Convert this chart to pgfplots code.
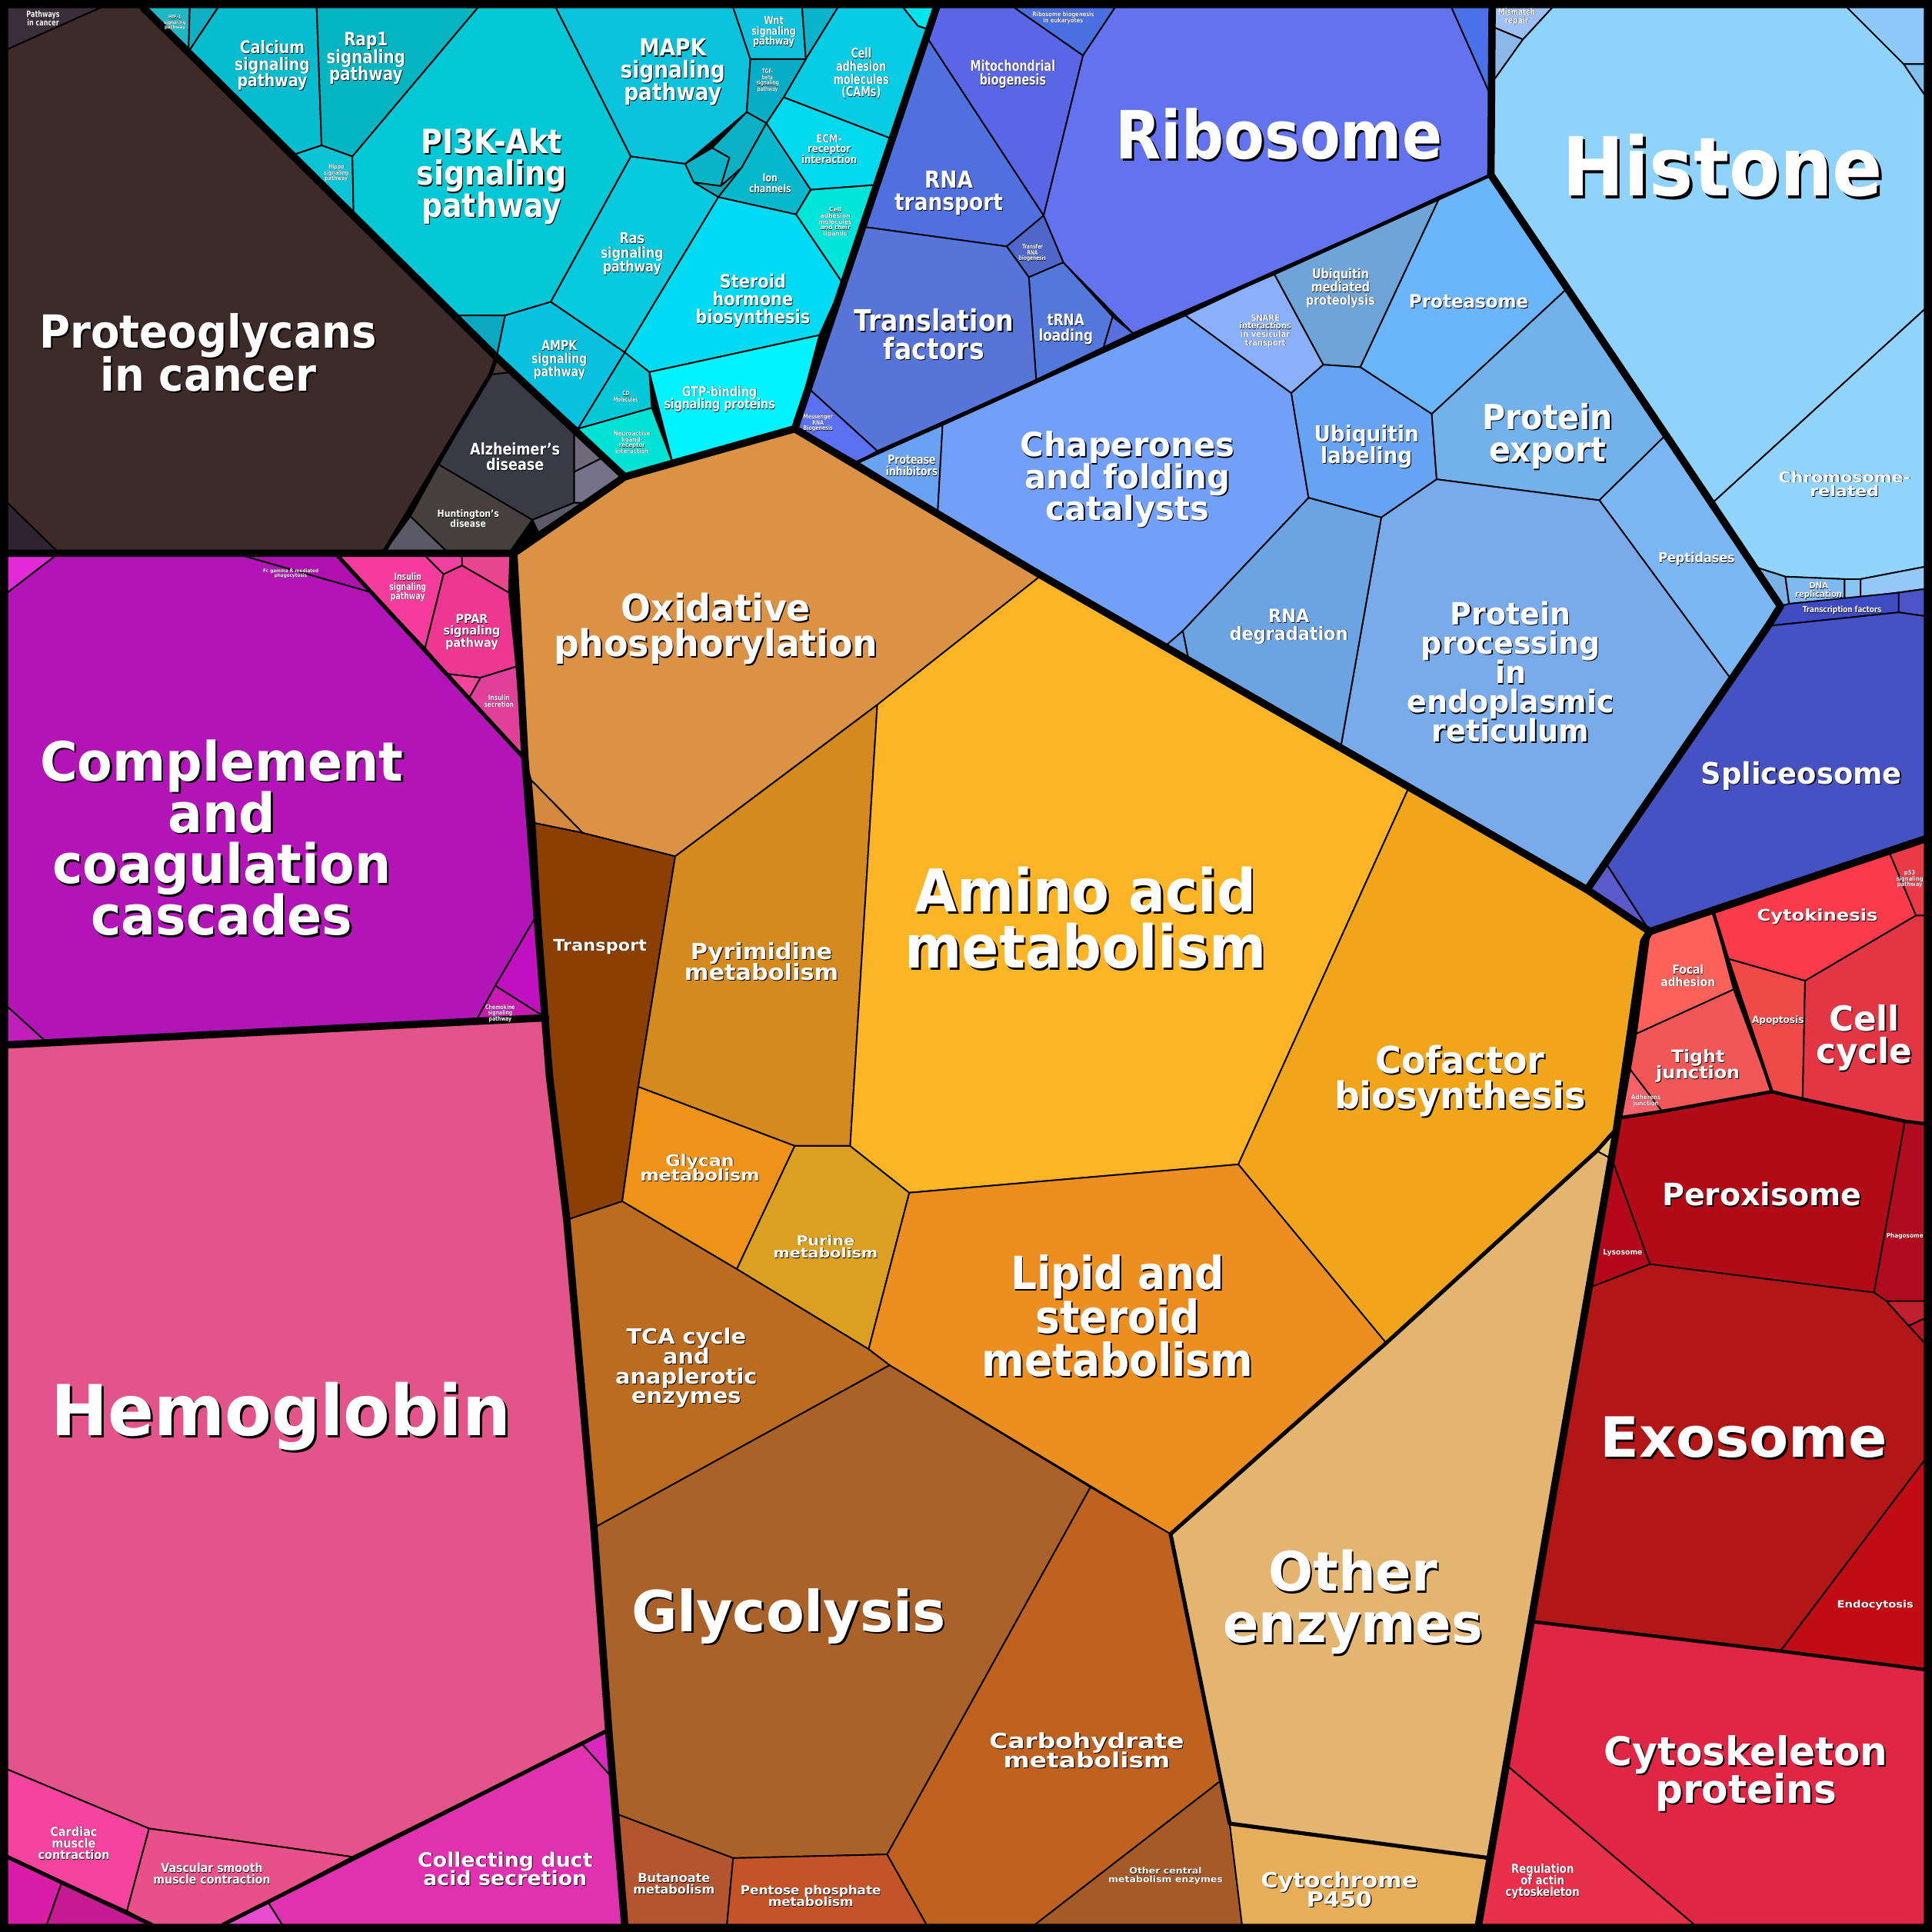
\documentclass[border=0pt]{standalone}
\usepackage{pgfplots}
\pgfplotsset{compat=1.18}
\usepackage{fontspec}
\setmainfont{DejaVu Sans}
\usepackage{graphicx}
\newsavebox\lbA \newsavebox\lbB
\newcommand\stk[1]{\vbox{\lineskiplimit=-\maxdimen\baselineskip=\lbs pt\relax\let\\\cr
 \halign{\hfil\vrule height \lsh pt depth \lsd pt width 0pt\relax##\hfil\cr#1\cr}}}
\newcommand\labbox[3]{%
 \pgfmathsetmacro\lfs{#1*0.5}%
 \pgfmathsetmacro\lbs{#1*0.5*0.95}%
 \pgfmathsetmacro\lsh{#1*0.5*0.85}%
 \pgfmathsetmacro\lsd{#1*0.5*0.3}%
 \pgfmathsetmacro\lof{#1*0.5*0.035}%
 \fontsize{\lfs pt}{\lbs pt}\selectfont\bfseries
 \sbox\lbA{\color{black}\stk{#3}}%
 \sbox\lbB{\color{white}\stk{#3}}%
 \pgfmathsetmacro\lsc{#2*0.5/\the\wd\lbB}%
 \scalebox{\lsc}[1]{\rlap{\hspace*{\lof pt}\raisebox{-\lof pt}{\usebox\lbA}}\usebox\lbB}%
}
\newcommand\lab[5]{\node[inner sep=0pt,yshift={-0.045pt*#3}] at (axis cs:#1,#2) {\labbox{#3}{#4}{#5}};}
\newcommand\cel[2]{\addplot[fill=#1,draw=black,line width=0.6pt,line join=round,mark=none] coordinates {#2} -- cycle;}
\newcommand\thk[2]{\addplot[draw=black,line width=#1,line join=round,line cap=round,mark=none] coordinates {#2};}
% colours
\definecolor{pic}{HTML}{3B2E3B}\definecolor{brw}{HTML}{3D2B29}\definecolor{wnts}{HTML}{2E2430}
\definecolor{alz}{HTML}{3A3A46}\definecolor{hun}{HTML}{45403E}\definecolor{arr}{HTML}{5B5868}
\definecolor{gsm}{HTML}{5C5A68}\definecolor{gsm2}{HTML}{4E4C58}\definecolor{mea}{HTML}{6E6A7A}\definecolor{mea2}{HTML}{76728A}\definecolor{tny2}{HTML}{4A3A38}
\definecolor{hif}{HTML}{1DB8C4}\definecolor{fox}{HTML}{0EB0C4}\definecolor{cal}{HTML}{06BCCF}\definecolor{rap}{HTML}{03B4C1}
\definecolor{hip}{HTML}{0BC5D6}\definecolor{pik}{HTML}{02C8D6}\definecolor{tgs}{HTML}{0AA9C0}\definecolor{mapk}{HTML}{0BC2DC}
\definecolor{wnt}{HTML}{0CC2DC}\definecolor{notch}{HTML}{09B4CC}\definecolor{cams}{HTML}{07CDE4}\definecolor{ctop}{HTML}{00E5EE}
\definecolor{tgfb}{HTML}{07ACC6}\definecolor{erb}{HTML}{0AB4C8}\definecolor{nfk}{HTML}{0CB0C4}\definecolor{esm}{HTML}{0AA6B8}
\definecolor{ras}{HTML}{07CADF}\definecolor{ion}{HTML}{05B8CC}\definecolor{ecm}{HTML}{00D9EE}\definecolor{calt}{HTML}{00E5DA}
\definecolor{ster}{HTML}{00DBF4}\definecolor{gtp}{HTML}{00F4FF}\definecolor{cdm}{HTML}{03C8D8}\definecolor{neu}{HTML}{00E2D4}\definecolor{ampk}{HTML}{08C1DE}
\definecolor{mito}{HTML}{5B66E6}\definecolor{rbg}{HTML}{4A6FE0}\definecolor{ribo}{HTML}{6373F0}\definecolor{mrs}{HTML}{4A70EA}
\definecolor{rnat}{HTML}{5170E0}\definecolor{trb}{HTML}{4F67C8}\definecolor{trl}{HTML}{5378DC}\definecolor{tny}{HTML}{5A70E0}
\definecolor{trf}{HTML}{5774D8}\definecolor{mrna}{HTML}{5B70F2}\definecolor{pinh}{HTML}{6AA2F2}\definecolor{chap}{HTML}{72A0F9}
\definecolor{csm}{HTML}{6A9EE6}\definecolor{snare}{HTML}{8BB0FB}\definecolor{ubm}{HTML}{6FA4D9}\definecolor{prot}{HTML}{6AB5FB}
\definecolor{ubl}{HTML}{67A3F3}\definecolor{pexp}{HTML}{72B1EA}\definecolor{pept}{HTML}{7BB7F5}\definecolor{erc}{HTML}{79AAEA}
\definecolor{rdeg}{HTML}{6CA3E2}\definecolor{mism}{HTML}{9FC0F5}\definecolor{bex}{HTML}{8AB8E8}\definecolor{hist}{HTML}{8FD3FD}
\definecolor{dnar}{HTML}{8EC8FA}\definecolor{dsm}{HTML}{7FC0F0}\definecolor{chrom}{HTML}{91D4FD}\definecolor{smc}{HTML}{7AB2E8}
\definecolor{drep}{HTML}{7FB8EF}\definecolor{smt}{HTML}{88C4F4}\definecolor{ner}{HTML}{93C8F8}\definecolor{tfc}{HTML}{3E4BC2}
\definecolor{tfs}{HTML}{4B55C8}\definecolor{spl}{HTML}{4652C2}\definecolor{tm}{HTML}{5A5ACB}
\definecolor{oxp}{HTML}{DB9244}\definecolor{meth}{HTML}{D4883E}\definecolor{trn}{HTML}{8B3F03}\definecolor{pyr}{HTML}{D48A1F}
\definecolor{glyc}{HTML}{EF9218}\definecolor{pur}{HTML}{DBA022}\definecolor{aam}{HTML}{FDB525}\definecolor{cof}{HTML}{F0A51A}
\definecolor{lip}{HTML}{EC8F20}\definecolor{tca}{HTML}{BB6C20}\definecolor{glc}{HTML}{AB6228}\definecolor{but}{HTML}{B35630}
\definecolor{pen}{HTML}{C45428}\definecolor{carb}{HTML}{C0621F}\definecolor{ocm}{HTML}{A55A27}\definecolor{oen}{HTML}{E4B570}
\definecolor{osm}{HTML}{E6C878}\definecolor{cyp}{HTML}{E6AE58}
\definecolor{msm}{HTML}{E22AD8}\definecolor{fcg}{HTML}{B010B0}\definecolor{comp}{HTML}{B314B7}\definecolor{leu}{HTML}{C010C0}
\definecolor{chem}{HTML}{C81AB0}\definecolor{bls}{HTML}{C020B8}\definecolor{ins}{HTML}{F53B9C}\definecolor{its}{HTML}{F040A0}
\definecolor{thy}{HTML}{E8468E}\definecolor{ppar}{HTML}{EE3790}\definecolor{psm}{HTML}{F2449A}\definecolor{isec}{HTML}{E0409A}
\definecolor{hemo}{HTML}{E2548A}\definecolor{prox}{HTML}{D828C0}\definecolor{cdas}{HTML}{E032B0}\definecolor{csmt}{HTML}{E84AD0}
\definecolor{card}{HTML}{F6449E}\definecolor{vasc}{HTML}{E8508A}\definecolor{pdig}{HTML}{D91DA9}\definecolor{cdig}{HTML}{C51A92}
\definecolor{foc}{HTML}{FE6159}\definecolor{tj}{HTML}{F25758}\definecolor{adh}{HTML}{F5606A}\definecolor{ctk}{HTML}{FB3A4C}
\definecolor{pft}{HTML}{EA3A48}\definecolor{apo}{HTML}{EF4A47}\definecolor{ccy}{HTML}{E33645}\definecolor{perox}{HTML}{B20A16}
\definecolor{phag}{HTML}{B10B1F}\definecolor{lyso}{HTML}{B5081A}\definecolor{raut}{HTML}{C01F30}\definecolor{esmt}{HTML}{B31628}
\definecolor{exo}{HTML}{B21616}\definecolor{endo}{HTML}{C10C15}\definecolor{cyto}{HTML}{E12545}\definecolor{ract}{HTML}{E8304A}
\begin{document}
\begin{tikzpicture}
\begin{axis}[width=784pt,height=784pt,scale only axis,xmin=0,xmax=1568,ymin=0,ymax=1568,y dir=reverse,hide axis,clip=false]
\addplot[fill=black,draw=none,mark=none] coordinates {(0,0)(1568,0)(1568,1568)(0,1568)} -- cycle;
% ---- region A
\cel{pic}{(6,6)(82,6)(6,40)}
\cel{brw}{(82,6)(116,6)(403,290)(398,304)(311,449)(48,449)(6,408)(6,40)}
\cel{wnts}{(6,408)(48,449)(6,449)}
\cel{tny2}{(398,304)(403,290)(416,302)}
\cel{alz}{(398,304)(416,302)(466,349)(466,408)(432,422)(356,377)}
\cel{hun}{(356,377)(432,422)(413,449)(364,449)(333,419)}
\cel{arr}{(333,419)(364,449)(311,449)}
\cel{gsm}{(432,422)(466,408)(476,408)(452,425)(437,432)}
\cel{gsm2}{(437,432)(452,425)(417,449)(413,449)}
\cel{mea}{(466,349)(490,371)(466,383)}
\cel{mea2}{(466,383)(490,371)(507,387)(476,408)(466,408)}
\cel{hif}{(116,6)(154,6)(153,42)}
\cel{fox}{(154,6)(177,6)(153,42)}
\cel{cal}{(177,6)(257,6)(261,118)(237,126)(153,42)}
\cel{rap}{(257,6)(388,6)(286,127)(261,118)}
\cel{hip}{(261,118)(286,127)(287,174)(237,126)}
\cel{pik}{(286,127)(388,6)(451,6)(512,127)(447,245)(410,256)(370,256)(287,174)}
\cel{tgs}{(370,256)(410,256)(403,290)}
\cel{mapk}{(451,6)(595,6)(609,48)(606,91)(556,133)(512,127)}
\cel{wnt}{(595,6)(651,6)(654,48)(609,48)}
\cel{notch}{(651,6)(680,6)(654,48)}
\cel{cams}{(680,6)(733,6)(745,21)(754,24)(722,112)(636,79)(654,48)}
\cel{ctop}{(733,6)(758,6)(754,24)(745,21)}
\cel{tgfb}{(609,48)(654,48)(636,79)(622,100)(606,91)}
\cel{erb}{(556,133)(578,120)(592,128)(585,151)(563,148)}
\cel{nfk}{(578,120)(606,91)(622,100)(602,136)(585,151)(592,128)}
\cel{esm}{(563,148)(585,151)(602,136)(583,160)}
\cel{ras}{(512,127)(556,133)(563,148)(583,160)(507,286)(447,245)}
\cel{ion}{(602,136)(622,100)(658,154)(646,174)(583,160)}
\cel{ecm}{(622,100)(636,79)(722,112)(712,150)(658,154)}
\cel{calt}{(658,154)(712,150)(684,230)(646,174)}
\cel{ster}{(583,160)(646,174)(684,230)(665,272)(527,302)(507,286)}
\cel{gtp}{(527,302)(665,272)(645,348)(546,376)}
\cel{cdm}{(507,286)(527,302)(529,331)(469,348)}
\cel{neu}{(469,348)(529,331)(546,376)(507,387)}
\cel{ampk}{(410,256)(447,245)(507,286)(469,348)(403,290)}
% ---- region B
\cel{mito}{(760,6)(823,6)(879,45)(847,175)(752,30)}
\cel{rbg}{(823,6)(905,6)(879,45)}
\cel{ribo}{(905,6)(1178,6)(1210,78)(1210,142)(920,271)(863,213)(847,175)(879,45)}
\cel{mrs}{(1178,6)(1211,6)(1210,78)}
\cel{rnat}{(752,30)(847,175)(817,200)(700,184)}
\cel{trb}{(817,200)(847,175)(863,213)(835,225)}
\cel{trl}{(835,225)(863,213)(903,257)(895,284)(841,309)}
\cel{tny}{(903,257)(920,271)(895,284)}
\cel{trf}{(700,184)(817,200)(835,225)(841,309)(712,366)(656,315)}
\cel{mrna}{(656,315)(712,366)(696,375)(645,348)}
\cel{pinh}{(696,375)(765,345)(761,416)}
\cel{chap}{(765,345)(962,256)(1048,319)(1062,404)(960,512)(945,525)(845,467)(761,416)}
\cel{csm}{(945,525)(960,512)(965,537)}
\cel{snare}{(962,256)(1034,222)(1074,296)(1048,319)}
\cel{ubm}{(1034,222)(1169,159)(1104,298)(1074,296)}
\cel{prot}{(1169,159)(1210,142)(1272,234)(1162,336)(1104,298)}
\cel{ubl}{(1048,319)(1074,296)(1104,298)(1162,336)(1166,389)(1121,420)(1062,404)}
\cel{pexp}{(1162,336)(1272,234)(1352,353)(1298,406)(1166,389)}
\cel{pept}{(1298,406)(1352,353)(1445,492)(1404,550)}
\cel{erc}{(1166,389)(1298,406)(1404,550)(1288,722)(1088,607)(1121,420)}
\cel{rdeg}{(1062,404)(1121,420)(1088,607)(965,537)(960,512)}
\cel{mism}{(1211,6)(1260,6)(1236,32)(1212,22)}
\cel{bex}{(1212,22)(1236,32)(1211,67)}
\cel{hist}{(1236,32)(1260,6)(1499,6)(1545,52)(1562,77)(1562,251)(1390,408)(1352,353)(1210,142)(1211,67)}
\cel{dnar}{(1499,6)(1562,6)(1562,52)(1545,52)}
\cel{dsm}{(1545,52)(1562,52)(1562,77)}
\cel{chrom}{(1390,408)(1562,251)(1562,460)(1510,470)(1497,470)(1449,468)(1424,460)}
\cel{smc}{(1424,460)(1449,468)(1452,490)(1445,492)}
\cel{drep}{(1449,468)(1497,470)(1497,486)(1452,490)}
\cel{smt}{(1497,470)(1510,470)(1510,485)(1497,486)}
\cel{ner}{(1510,470)(1562,460)(1562,478)(1510,485)}
\cel{tfc}{(1445,492)(1452,490)(1541,481)(1541,497)(1435,508)}
\cel{tfs}{(1541,481)(1562,478)(1562,500)(1541,497)}
\cel{spl}{(1435,508)(1541,497)(1562,500)(1562,681)(1339,756)(1303,700)}
\cel{tm}{(1288,722)(1303,700)(1339,756)}
% ---- region C
\cel{oxp}{(417,449)(507,387)(645,348)(845,467)(712,572)(548,695)(473,676)(431,633)(426,615)}
\cel{meth}{(431,633)(473,676)(434,668)}
\cel{trn}{(434,668)(473,676)(548,695)(518,882)(505,975)(460,990)(446,874)}
\cel{pyr}{(548,695)(712,572)(690,930)(645,930)(518,882)}
\cel{glyc}{(518,882)(645,930)(598,1030)(505,975)}
\cel{pur}{(645,930)(690,930)(738,968)(705,1095)(598,1030)}
\cel{aam}{(712,572)(845,467)(1143,640)(1005,945)(738,968)(690,930)}
\cel{cof}{(1143,640)(1288,722)(1339,756)(1334,764)(1312,916)(1296,934)(1125,1090)(1005,945)}
\cel{lip}{(738,968)(1005,945)(1125,1090)(950,1245)(722,1108)(705,1095)}
\cel{tca}{(460,990)(505,975)(598,1030)(705,1095)(722,1108)(482,1240)}
\cel{glc}{(482,1240)(722,1108)(885,1207)(720,1505)(595,1508)(500,1472)}
\cel{but}{(500,1472)(595,1508)(590,1562)(507,1562)}
\cel{pen}{(595,1508)(720,1505)(752,1562)(590,1562)}
\cel{carb}{(885,1207)(950,1245)(991,1445)(840,1562)(752,1562)(720,1505)}
\cel{ocm}{(991,1445)(998,1480)(1008,1562)(840,1562)}
\cel{oen}{(1296,934)(1307,940)(1268,1160)(1209,1508)(998,1480)(950,1245)(1125,1090)}
\cel{osm}{(1296,934)(1312,916)(1307,940)}
\cel{cyp}{(998,1480)(1209,1508)(1201,1562)(1008,1562)}
% ---- region D
\cel{msm}{(6,451)(45,451)(6,481)}
\cel{fcg}{(197,451)(274,451)(302,481)}
\cel{comp}{(45,451)(197,451)(302,481)(425,615)(436,742)(402,800)(386,829)(38,846)(6,817)(6,481)}
\cel{leu}{(436,742)(443,826)(402,800)}
\cel{chem}{(402,800)(443,826)(386,829)}
\cel{bls}{(6,817)(38,846)(6,848)}
\cel{ins}{(274,451)(345,451)(360,466)(345,526)(302,481)}
\cel{its}{(345,451)(375,451)(375,459)(360,466)}
\cel{thy}{(375,451)(414,451)(413,481)(375,459)}
\cel{ppar}{(360,466)(375,459)(413,481)(419,541)(390,550)(363,547)(345,526)}
\cel{psm}{(363,547)(390,550)(381,566)}
\cel{isec}{(390,550)(419,541)(425,615)(381,566)}
\cel{hemo}{(6,848)(443,826)(446,874)(460,990)(482,1240)(494,1404)(286,1507)(121,1484)(6,1436)}
\cel{prox}{(472,1415)(494,1404)(497,1443)}
\cel{cdas}{(472,1415)(497,1443)(507,1562)(229,1562)(217,1543)}
\cel{csmt}{(181,1562)(217,1543)(229,1562)}
\cel{card}{(6,1436)(121,1484)(103,1551)(6,1507)}
\cel{vasc}{(121,1484)(286,1507)(181,1562)(123,1562)(103,1551)}
\cel{pdig}{(6,1507)(50,1528)(38,1562)(6,1562)}
\cel{cdig}{(50,1528)(103,1551)(123,1562)(38,1562)}
% ---- region E
\cel{foc}{(1339,756)(1390,739)(1407,803)(1328,839)}
\cel{tj}{(1328,839)(1407,803)(1438,886)(1349,902)(1323,868)}
\cel{adh}{(1323,868)(1349,902)(1316,907)}
\cel{ctk}{(1390,739)(1533,691)(1555,743)(1465,796)(1402,778)}
\cel{pft}{(1533,691)(1562,681)(1562,743)(1555,743)}
\cel{apo}{(1402,778)(1465,796)(1463,892)(1438,886)}
\cel{ccy}{(1465,796)(1555,743)(1562,743)(1562,912)(1546,910)(1463,892)}
\cel{perox}{(1316,907)(1349,902)(1438,886)(1463,892)(1546,910)(1521,1049)(1339,1026)(1308,940)}
\cel{phag}{(1546,910)(1562,912)(1562,1056)(1531,1056)(1521,1049)}
\cel{lyso}{(1308,940)(1339,1026)(1290,1045)}
\cel{raut}{(1531,1056)(1562,1056)(1562,1070)(1549,1076)}
\cel{esmt}{(1549,1076)(1562,1070)(1562,1090)}
\cel{exo}{(1290,1045)(1339,1026)(1521,1049)(1531,1056)(1549,1076)(1562,1090)(1562,1185)(1445,1340)(1243,1316)}
\cel{endo}{(1562,1185)(1562,1355)(1445,1340)}
\cel{cyto}{(1243,1316)(1445,1340)(1562,1355)(1562,1562)(1375,1562)(1222,1432)}
\cel{ract}{(1222,1432)(1375,1562)(1201,1562)}
% ---- thick boundaries
\thk{3pt}{(116,6)(403,290)(507,387)}
\thk{3pt}{(760,6)(645,348)}
\thk{3pt}{(6,449)(417,449)(507,387)(645,348)(845,467)(1288,722)(1339,756)(1562,681)}
\thk{3pt}{(417,449)(426,615)(446,874)(460,990)(482,1240)(494,1404)(507,1562)}
\thk{3pt}{(1211,6)(1210,142)(1352,353)(1445,492)(1435,508)(1288,722)}
\thk{3pt}{(1339,756)(1334,764)(1312,916)(1200,1562)}
\thk{3pt}{(6,848)(443,826)}
\thk{1.6pt}{(403,290)(398,304)(311,449)}
\thk{1.6pt}{(274,451)(425,615)}
\thk{1.6pt}{(494,1404)(181,1562)}
\thk{1.6pt}{(6,1507)(123,1562)}
\thk{1.4pt}{(1210,142)(1034,222)(920,271)(841,309)(696,375)}
\thk{1.6pt}{(1312,916)(1296,934)(1125,1090)(950,1245)(998,1480)(1209,1508)}
\thk{1.4pt}{(1390,739)(1402,778)(1438,886)}
\thk{1.4pt}{(1316,907)(1349,902)(1438,886)(1463,892)(1546,910)(1562,912)}
\thk{1.4pt}{(1243,1316)(1445,1340)(1562,1355)}
% ---- labels region A
\lab{35}{15}{7}{27}{Pathways\\in cancer}
\lab{169}{287}{37}{274}{Proteoglycans\\in cancer}
\lab{418}{371}{13}{73}{Alzheimer's\\disease}
\lab{380}{421}{8}{50}{Huntington's\\disease}
\lab{221}{52}{14}{61}{Calcium\\signaling\\pathway}
\lab{297}{46}{15}{64}{Rap1\\signaling\\pathway}
\lab{399}{141}{27}{122}{PI3K-Akt\\signaling\\pathway}
\lab{546}{57}{19}{85}{MAPK\\signaling\\pathway}
\lab{628}{25}{9}{36}{Wnt\\signaling\\pathway}
\lab{699}{59}{11}{45}{Cell\\adhesion\\molecules\\(CAMs)}
\lab{673}{121}{9}{45}{ECM-\\receptor\\interaction}
\lab{625}{149}{9}{34}{Ion\\channels}
\lab{678}{180}{5}{27}{Cell\\adhesion\\molecules\\and their\\ligands}
\lab{513}{205}{12}{51}{Ras\\signaling\\pathway}
\lab{611}{243}{15}{93}{Steroid\\hormone\\biosynthesis}
\lab{584}{323}{11}{90}{GTP-binding\\signaling proteins}
\lab{454}{291}{11}{45}{AMPK\\signaling\\pathway}
\lab{508}{322}{5}{20}{CD\\Molecules}
\lab{513}{359}{5}{30}{Neuroactive\\ligand-\\receptor\\interaction}
\lab{273}{140}{5}{20}{Hippo\\signaling\\pathway}
\lab{623}{65}{5}{18}{TGF-\\beta\\signaling\\pathway}
\lab{142}{18}{4}{18}{HIF-1\\signaling\\pathway}
% ---- labels region B
\lab{1038}{110}{54}{265}{Ribosome}
\lab{1398}{136}{66}{260}{Histone}
\lab{1497}{393}{12}{107}{Chromosome-\\related}
\lab{1192}{245}{15}{97}{Proteasome}
\lab{1256}{352}{28}{106}{Protein\\export}
\lab{1377}{453}{11}{62}{Peptidases}
\lab{1088}{233}{11}{56}{Ubiquitin\\mediated\\proteolysis}
\lab{1027}{268}{7}{42}{SNARE\\interactions\\in vesicular\\transport}
\lab{1109}{361}{18}{85}{Ubiquitin\\labeling}
\lab{915}{387}{27}{174}{Chaperones\\and folding\\catalysts}
\lab{1226}{546}{25}{168}{Protein\\processing\\in\\endoplasmic\\reticulum}
\lab{1046}{507}{15}{96}{RNA\\degradation}
\lab{1462}{628}{24}{163}{Spliceosome}
\lab{1495}{495}{7}{64}{Transcription factors}
\lab{1476}{479}{7}{38}{DNA\\replication}
\lab{1231}{13}{7}{30}{Mismatch\\repair}
\lab{822}{59}{12}{69}{Mitochondrial\\biogenesis}
\lab{770}{155}{19}{88}{RNA\\transport}
\lab{758}{272}{24}{130}{Translation\\factors}
\lab{865}{266}{13}{44}{tRNA\\loading}
\lab{740}{378}{10}{42}{Protease\\inhibitors}
\lab{838}{205}{5}{22}{Transfer\\RNA\\biogenesis}
\lab{664}{343}{5}{24}{Messenger\\RNA\\Biogenesis}
\lab{863}{14}{5}{50}{Ribosome biogenesis\\in eukaryotes}
% ---- labels region C
\lab{581}{508}{30}{263}{Oxidative\\phosphorylation}
\lab{881}{746}{48}{293}{Amino acid\\metabolism}
\lab{1185}{875}{30}{204}{Cofactor\\biosynthesis}
\lab{907}{1069}{37}{220}{Lipid and\\steroid\\metabolism}
\lab{618}{781}{18}{125}{Pyrimidine\\metabolism}
\lab{487}{767}{13}{76}{Transport}
\lab{568}{948}{13}{97}{Glycan\\metabolism}
\lab{670}{1012}{11}{85}{Purine\\metabolism}
\lab{557}{1109}{17}{115}{TCA cycle\\and\\anaplerotic\\enzymes}
\lab{640}{1308}{46}{255}{Glycolysis}
\lab{882}{1421}{17}{158}{Carbohydrate\\metabolism}
\lab{1098}{1297}{44}{211}{Other\\enzymes}
\lab{1087}{1534}{17}{127}{Cytochrome\\P450}
\lab{547}{1529}{10}{66}{Butanoate\\metabolism}
\lab{658}{1539}{10}{114}{Pentose phosphate\\metabolism}
\lab{946}{1522}{7}{93}{Other central\\metabolism enzymes}
% ---- labels region D
\lab{180}{681}{44}{295}{Complement\\and\\coagulation\\cascades}
\lab{331}{476}{8}{30}{Insulin\\signaling\\pathway}
\lab{383}{512}{10}{46}{PPAR\\signaling\\pathway}
\lab{405}{569}{6}{24}{Insulin\\secretion}
\lab{228}{1145}{57}{373}{Hemoglobin}
\lab{410}{1517}{16}{142}{Collecting duct\\acid secretion}
\lab{60}{1496}{10}{58}{Cardiac\\muscle\\contraction}
\lab{172}{1521}{10}{95}{Vascular smooth\\muscle contraction}
\lab{406}{822}{5}{24}{Chemokine\\signaling\\pathway}
\lab{236}{465}{4}{45}{Fc gamma R-mediated\\phagocytosis}
% ---- labels region E
\lab{1415}{1167}{45}{233}{Exosome}
\lab{1417}{1437}{32}{230}{Cytoskeleton\\proteins}
\lab{1430}{970}{25}{162}{Peroxisome}
\lab{1513}{840}{28}{78}{Cell\\cycle}
\lab{1475}{743}{13}{98}{Cytokinesis}
\lab{1378}{864}{14}{68}{Tight\\junction}
\lab{1370}{792}{10}{44}{Focal\\adhesion}
\lab{1443}{828}{8}{42}{Apoptosis}
\lab{1522}{1302}{8}{62}{Endocytosis}
\lab{1252}{1526}{10}{60}{Regulation\\of actin\\cytoskeleton}
\lab{1317}{1016}{6}{32}{Lysosome}
\lab{1546}{1003}{5}{30}{Phagosome}
\lab{1336}{893}{5}{24}{Adherens\\junction}
\lab{1550}{713}{5}{22}{p53\\signaling\\pathway}
\end{axis}
\end{tikzpicture}
\end{document}
